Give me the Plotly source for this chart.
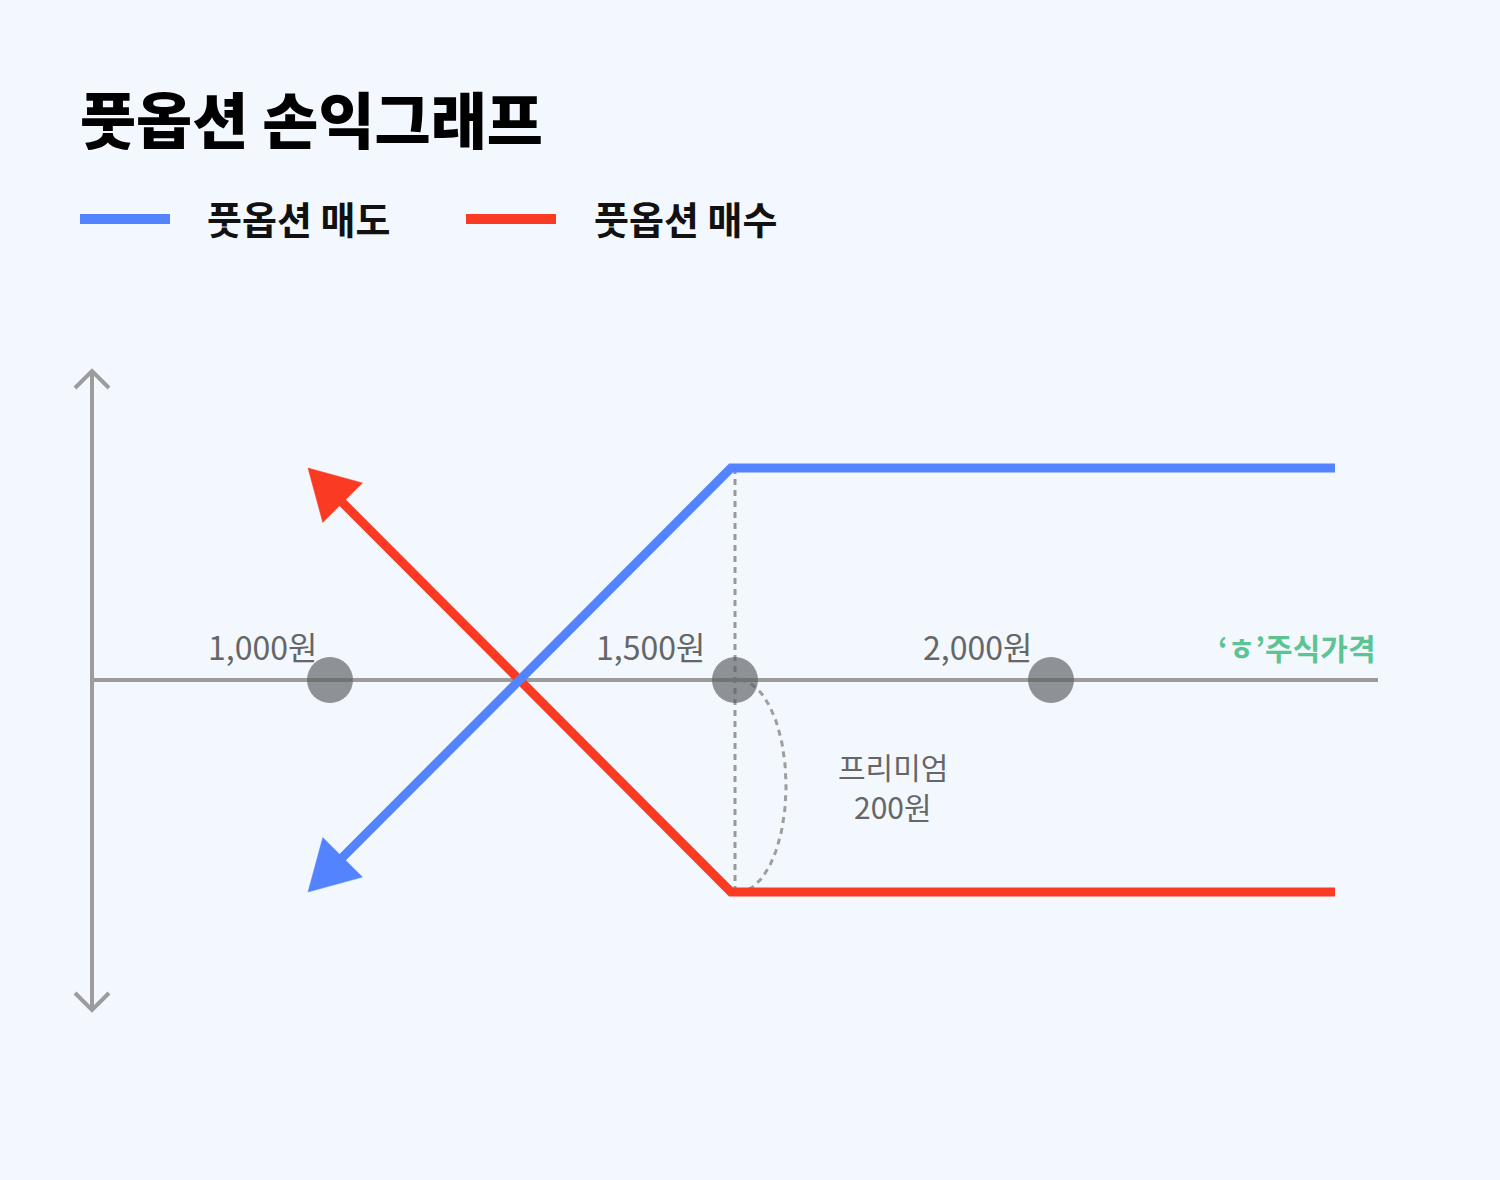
import numpy as np
import plotly.graph_objects as go

# ---------------- data ----------------
title_text = "풋옵션 손익그래프"
series_names = ["풋옵션 매도", "풋옵션 매수"]
series_colors = ["#5383FF", "#FA3A23"]

# schematic price axis (diagram units) and profit axis (원)
price_labels = ["1,000원", "1,500원", "2,000원"]
price_marks = [330, 735, 1051]
price_axis_label = "‘ㅎ’주식가격"

sell_x = [308, 731, 1335]      # 풋옵션 매도 payoff
sell_y = [-200, 200, 200]
buy_x = [308, 731, 1335]       # 풋옵션 매수 payoff
buy_y = [200, -200, -200]

strike_x = 735
premium = 200
premium_label = ["프리미엄", "200원"]

# ---------------- geometry helpers ----------------
W, H = 1500, 1180
Y0_PX = 680          # pixel row of profit 0
PX_PER_WON = 1.06    # vertical scale


def py(profit):
    return Y0_PX - PX_PER_WON * np.asarray(profit, dtype=float)


def profit_of(pix):
    return (Y0_PX - np.asarray(pix, dtype=float)) / PX_PER_WON


def arrow_head(xs, ys, length=49, half=28):
    """Triangle at first point of a polyline, pointing away from second point."""
    tx, ty = xs[0], float(py(ys[0]))
    nx, ny = xs[1], float(py(ys[1]))
    d = np.array([nx - tx, ny - ty])
    d = d / np.hypot(*d)
    p = np.array([-d[1], d[0]])
    base = np.array([tx, ty]) + length * d
    c1 = base + half * p
    c2 = base - half * p
    tri_x = [tx, c1[0], c2[0], tx]
    tri_y = list(profit_of([ty, c1[1], c2[1], ty]))
    start = np.array([tx, ty]) + (length * 0.6) * d
    return tri_x, tri_y, start[0], float(profit_of(start[1]))


AXIS_GRAY = "#9C9C9C"
TEXT_GRAY = "#666666"
BG = "#F2F8FE"
FONT = "Noto Sans CJK KR"

fig = go.Figure()

# horizontal price axis
fig.add_trace(go.Scatter(x=[92, 1378], y=[0, 0], mode="lines",
                         line=dict(color=AXIS_GRAY, width=4), hoverinfo="skip"))
# vertical profit axis with open arrowheads
v_top, v_bot = float(profit_of(371)), float(profit_of(1010))
fig.add_trace(go.Scatter(x=[92, 92], y=[v_top, v_bot], mode="lines",
                         line=dict(color=AXIS_GRAY, width=4), hoverinfo="skip"))
chev = 17
fig.add_trace(go.Scatter(
    x=[92 - chev, 92, 92 + chev, None, 92 - chev, 92, 92 + chev],
    y=[float(profit_of(371 + chev)), v_top, float(profit_of(371 + chev)), None,
       float(profit_of(1010 - chev)), v_bot, float(profit_of(1010 - chev))],
    mode="lines", line=dict(color=AXIS_GRAY, width=4), hoverinfo="skip"))

# premium dashed guide + arc
fig.add_trace(go.Scatter(x=[strike_x, strike_x], y=[premium, -premium], mode="lines",
                         line=dict(color="#999999", width=3, dash="6px,5px"),
                         hoverinfo="skip"))
t = np.linspace(-np.pi / 2, np.pi / 2, 60)
arc_x = strike_x + 3 + 48 * np.cos(t)
arc_y = -premium / 2 + (premium / 2) * np.sin(t)
fig.add_trace(go.Scatter(x=arc_x, y=arc_y, mode="lines",
                         line=dict(color="#9E9E9E", width=3, dash="6px,5px"),
                         hoverinfo="skip"))

# payoff lines with arrowheads (red first so blue is on top)
for xs, ys, col in [(buy_x, buy_y, series_colors[1]), (sell_x, sell_y, series_colors[0])]:
    tri_x, tri_y, sx, sy = arrow_head(xs, ys)
    fig.add_trace(go.Scatter(x=[sx] + xs[1:], y=[sy] + ys[1:], mode="lines",
                             line=dict(color=col, width=9), hoverinfo="skip"))
    fig.add_trace(go.Scatter(x=tri_x, y=tri_y, mode="lines", fill="toself",
                             fillcolor=col, line=dict(color=col, width=0.5),
                             hoverinfo="skip"))

# price marks
fig.add_trace(go.Scatter(x=price_marks, y=[0] * len(price_marks), mode="markers",
                         marker=dict(size=46, color="rgba(92,95,98,0.67)",
                                     line=dict(width=0)), hoverinfo="skip"))

annotations = []
label_offsets = [-68, -85, -74]
for xm, lab, off in zip(price_marks, price_labels, label_offsets):
    annotations.append(dict(x=xm + off, y=float(profit_of(646)), xref="x", yref="y",
                            text=lab, showarrow=False, xanchor="center", yanchor="middle",
                            font=dict(family=FONT, size=32, color=TEXT_GRAY)))
annotations.append(dict(x=1378, y=float(profit_of(647)), xref="x", yref="y",
                        text=price_axis_label, showarrow=False, xanchor="right",
                        yanchor="middle",
                        font=dict(family=FONT, size=30, color="#5CC493", weight=700)))
for line_text, ypix in zip(premium_label, [766, 806]):
    annotations.append(dict(x=893, y=float(profit_of(ypix)), xref="x", yref="y",
                            text=line_text, showarrow=False,
                            xanchor="center", yanchor="middle", align="center",
                            font=dict(family=FONT, size=30, color=TEXT_GRAY)))

# title
annotations.append(dict(x=78 / W, y=1 - 118 / H, xref="paper", yref="paper",
                        text=title_text, showarrow=False, xanchor="left", yanchor="middle",
                        font=dict(family=FONT, size=61, color="#000000", weight=900)))

# custom legend
shapes = []
legend_items = [(80, 170, 205), (466, 556, 592)]
for (x0, x1, tx), name, col in zip(legend_items, series_names, series_colors):
    shapes.append(dict(type="line", xref="paper", yref="paper",
                       x0=x0 / W, x1=x1 / W, y0=1 - 219 / H, y1=1 - 219 / H,
                       line=dict(color=col, width=10)))
    annotations.append(dict(x=tx / W, y=1 - 218 / H, xref="paper", yref="paper",
                            text=name, showarrow=False, xanchor="left", yanchor="middle",
                            font=dict(family=FONT, size=38, color="#111111", weight=700)))

fig.update_layout(
    width=W, height=H, autosize=False,
    margin=dict(l=0, r=0, t=0, b=0, pad=0),
    paper_bgcolor=BG, plot_bgcolor=BG,
    showlegend=False,
    xaxis=dict(range=[0, W], visible=False, fixedrange=True),
    yaxis=dict(range=[float(profit_of(H)), float(profit_of(0))], visible=False,
               fixedrange=True),
    annotations=annotations, shapes=shapes,
)

fig.write_html("out.html", config={"displayModeBar": False},
               post_script="document.body.style.margin='0';")
